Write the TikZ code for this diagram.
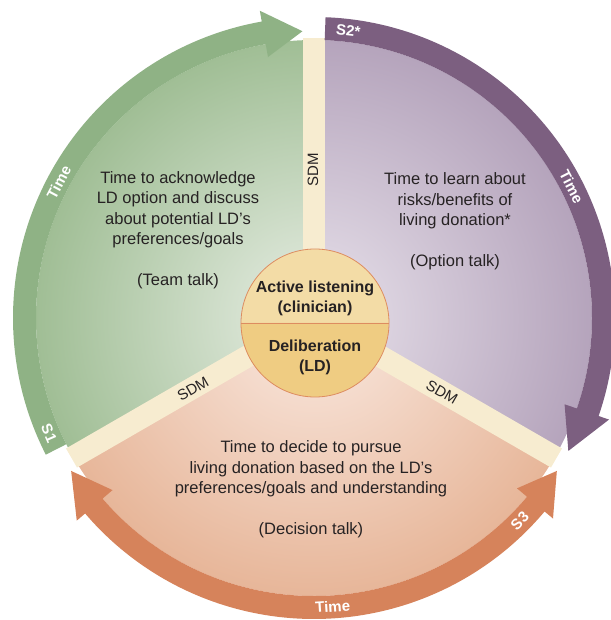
\documentclass[tikz,border=0pt]{standalone}
\usepackage{fontspec}
\setmainfont{Liberation Sans}
\definecolor{gband}{RGB}{143,178,133}
\definecolor{pband}{RGB}{124,95,128}
\definecolor{oband}{RGB}{214,131,91}
\definecolor{sdmc}{RGB}{247,236,208}
\definecolor{gout}{RGB}{160,190,149}
\definecolor{gin}{RGB}{232,238,229}
\definecolor{pout}{RGB}{181,164,188}
\definecolor{pin}{RGB}{232,226,235}
\definecolor{oout}{RGB}{231,182,153}
\definecolor{oin}{RGB}{250,234,226}
\definecolor{ctop}{RGB}{243,220,166}
\definecolor{cbot}{RGB}{239,204,130}
\definecolor{cline}{RGB}{221,140,96}
\definecolor{txt}{RGB}{38,34,35}
\begin{document}
\begin{tikzpicture}[x=1pt,y=1pt,
  bandlbl/.style={text=white, font=\bfseries\fontsize{15}{18}\selectfont, inner sep=0},
  sdmlbl/.style={text=txt, font=\fontsize{15}{18}\selectfont, inner sep=0},
  body/.style={text=txt, font=\fontsize{16.5}{20.5}\selectfont, align=center, inner sep=0},
  hubtxt/.style={text=txt, font=\bfseries\fontsize{16}{20}\selectfont, align=center, inner sep=0}]
\useasboundingbox (-314,-302) rectangle (296,318);
% sectors
\begin{scope}
\clip (0,0) -- (90:278) arc[start angle=90,end angle=210,radius=278] -- cycle;
\shade[inner color=gin, outer color=gout] (0,0) circle (278);
\end{scope}
\begin{scope}
\clip (0,0) -- (-30:278) arc[start angle=-30,end angle=90,radius=278] -- cycle;
\shade[inner color=pin, outer color=pout] (0,0) circle (278);
\end{scope}
\begin{scope}
\clip (0,0) -- (210:278) arc[start angle=210,end angle=330,radius=278] -- cycle;
\shade[inner color=oin, outer color=oout] (0,0) circle (278);
\end{scope}
% SDM bars
\foreach \a in {90,210,330} \fill[sdmc, rotate=\a] (0,-11) rectangle (280,11);
% green band (S1)
\fill[gband] (207:278) -- (207:301) arc[start angle=207,end angle=100,radius=301]
  -- (100:312) -- (92.3:287) -- (100:265) -- (100:278)
  arc[start angle=100,end angle=207,radius=278] -- cycle;
% purple band (S2)
\fill[pband] (87.8:278) -- (87.8:301) arc[start angle=87.8,end angle=-19,radius=301]
  -- (-19:312) -- (-27.6:287) -- (-19:265) -- (-19:278)
  arc[start angle=-19,end angle=87.8,radius=278] -- cycle;
% orange band (S3), double headed
\fill[oband] (220.5:278) -- (220.5:265) -- (212.2:287) -- (220.5:312) -- (220.5:301)
  arc[start angle=220.5,end angle=320,radius=301]
  -- (320:312) -- (327.8:287) -- (320:265) -- (320:278)
  arc[start angle=320,end angle=220.5,radius=278] -- cycle;
% hub
\node[circle, minimum size=148, inner sep=0] (hub) at (1,-5) {};
\fill[ctop] (hub.east) arc[start angle=0,end angle=180,radius=74] -- cycle;
\fill[cbot] (hub.west) arc[start angle=180,end angle=360,radius=74] -- cycle;
\draw[cline, line width=0.8pt] (hub.west) -- (hub.east);
\draw[cline, line width=0.8pt] (hub.center) circle (74);
\node[hubtxt] (listen) at (1,20) {Active listening\\(clinician)};
\node[hubtxt] (delib) at (1,-39) {Deliberation\\(LD)};
% sector texts
\node[body] (teamtxt) at (-136,88) {Time to acknowledge\\LD option and discuss\\about potential LD’s\\preferences/goals\\[20pt](Team talk)};
\node[body] (opttxt) at (141,97) {Time to learn about\\risks/benefits of\\living donation*\\[20pt](Option talk)};
\node[body] (dectxt) at (-3,-171) {Time to decide to pursue\\living donation based on the LD’s\\preferences/goals and understanding\\[20pt](Decision talk)};
% SDM labels
\node[sdmlbl, rotate=90] (sdmtop) at (-1,148) {SDM};
\node[sdmlbl, rotate=30] (sdmleft) at (-121,-71) {SDM};
\node[sdmlbl, rotate=-30] (sdmright) at (128,-74) {SDM};
% band labels
\node[bandlbl, rotate=62] (gtime) at (152:289) {Time};
\node[bandlbl, rotate=-66.5] (s1) at (203.5:289) {S1};
\node[bandlbl, rotate=-6.8] (s2) at (83.2:289) {S2*};
\node[bandlbl, rotate=-63] (ptime) at (27:289) {Time};
\node[bandlbl, rotate=3.7] (otime) at (273.7:289) {Time};
\node[bandlbl, rotate=45.4] (s3) at (315.4:289) {S3};
\end{tikzpicture}
\end{document}
